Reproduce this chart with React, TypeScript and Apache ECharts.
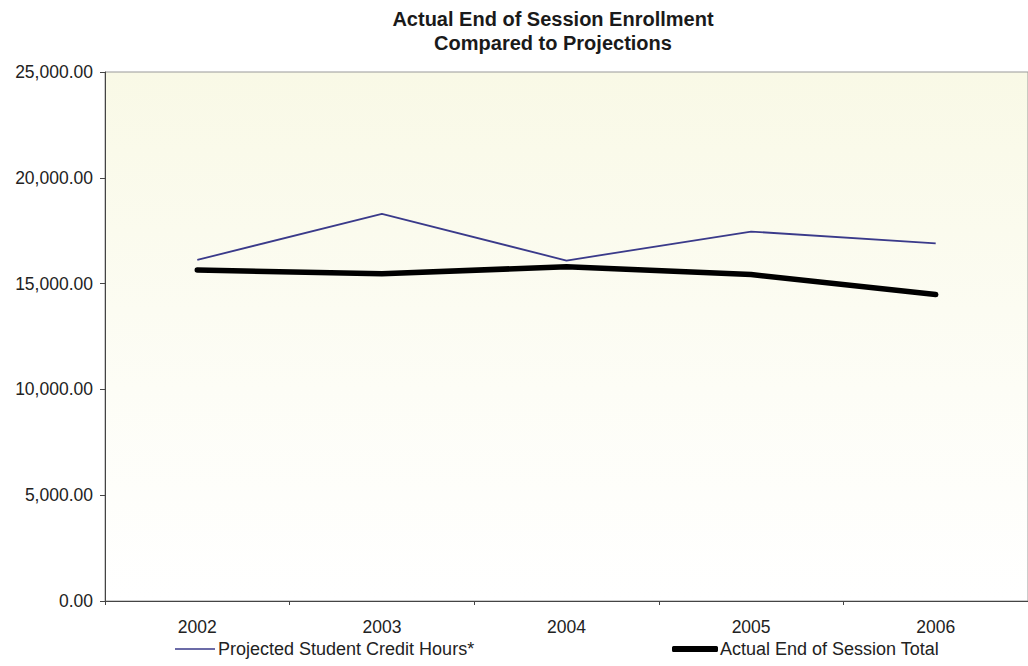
import React, { useEffect, useRef } from "react";
import * as echarts from "echarts";

const years = ["2002", "2003", "2004", "2005", "2006"];
const projected = [16120, 18290, 16090, 17460, 16900];
const actual = [15640, 15460, 15800, 15430, 14480];
const titleLines = ["Actual End of Session Enrollment", "Compared to Projections"];
const seriesNames = ["Projected Student Credit Hours*", "Actual End of Session Total"];

const FONT = "'Liberation Sans', Arial, sans-serif";

export default function App() {
  const ref = useRef<HTMLDivElement>(null);
  useEffect(() => {
    if (!ref.current) return;
    const chart = echarts.init(ref.current, null, { renderer: "svg" });
    chart.setOption({
      animation: false,
      backgroundColor: "#ffffff",
      title: {
        text: titleLines.join("\n"),
        left: 548,
        textAlign: "center",
        top: 2,
        textStyle: { fontFamily: FONT, fontSize: 20, fontWeight: "bold", color: "#1a1a1a", lineHeight: 24 },
      },
      legend: [
        {
          data: [{ name: seriesNames[0], icon: "rect" }],
          left: 170,
          top: 635,
          itemWidth: 40,
          itemHeight: 1.5,
          itemGap: 0,
          textStyle: { fontFamily: FONT, fontSize: 18, color: "#222", padding: [0, 0, 0, -2] },
        },
        {
          data: [{ name: seriesNames[1], icon: "roundRect" }],
          left: 667,
          top: 635,
          itemWidth: 46,
          itemHeight: 6,
          itemGap: 0,
          textStyle: { fontFamily: FONT, fontSize: 18, color: "#222", padding: [0, 0, 0, -3] },
        },
      ],
      grid: {
        left: 105,
        right: -8,
        top: 72,
        bottom: 65,
        show: true,
        borderColor: "#999",
        borderWidth: 1,
        backgroundColor: new echarts.graphic.LinearGradient(0, 0, 0, 1, [
          { offset: 0, color: "#f9f9e6" },
          { offset: 0.6, color: "#fdfdf6" },
          { offset: 1, color: "#ffffff" },
        ]),
      },
      xAxis: {
        type: "category",
        data: years,
        boundaryGap: true,
        axisLine: { lineStyle: { color: "#444", width: 1 } },
        axisTick: { show: true, length: 4, lineStyle: { color: "#444" } },
        axisLabel: { fontFamily: FONT, fontSize: 17.5, color: "#222", margin: 17 },
      },
      yAxis: {
        type: "value",
        min: 0,
        max: 25000,
        interval: 5000,
        axisLine: { show: true, lineStyle: { color: "#444", width: 1 } },
        axisTick: { show: true, length: 5, lineStyle: { color: "#444" } },
        splitLine: { show: false },
        axisLabel: {
          fontFamily: FONT,
          fontSize: 17.5,
          color: "#222",
          margin: 12,
          formatter: (v: number) =>
            v.toLocaleString("en-US", { minimumFractionDigits: 2, maximumFractionDigits: 2 }),
        },
      },
      series: [
        {
          name: seriesNames[0],
          type: "line",
          data: projected,
          symbol: "none",
          lineStyle: { color: "#3a3a8a", width: 1.8 },
          itemStyle: { color: "#3a3a8a" },
        },
        {
          name: seriesNames[1],
          type: "line",
          data: actual,
          symbol: "none",
          lineStyle: { color: "#000000", width: 5.5, cap: "round", join: "round" },
          itemStyle: { color: "#000000" },
        },
      ],
    });
    return () => chart.dispose();
  }, []);
  return (
    <div
      ref={ref}
      style={{ position: "fixed", left: 0, top: 0, width: 1028, height: 666 }}
    />
  );
}
